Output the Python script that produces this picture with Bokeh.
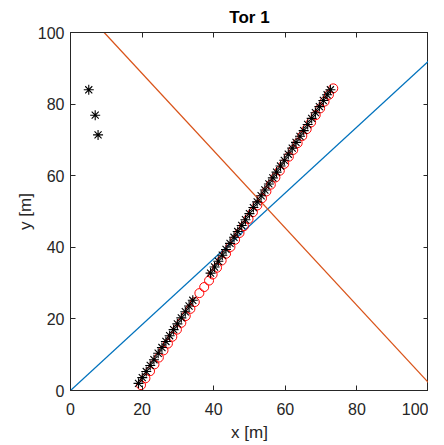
from bokeh.plotting import figure
from bokeh.models import Range1d, FixedTicker, LinearAxis
from bokeh.embed import file_html
from bokeh.resources import INLINE

# ---- data ----
title_text = "Tor 1"
ticks = [0, 20, 40, 60, 80, 100]

blue_x = [0, 100]
blue_y = [0, 92]

orange_x = [9.4, 100]
orange_y = [100, 2.2]

star_x = [19.0, 20.05, 21.16, 22.27, 23.31, 24.49, 25.54, 26.65, 27.69, 28.80,
          29.85, 30.96, 32.07, 33.12, 34.16, 39.13, 40.24, 41.29, 42.40, 43.44,
          44.56, 45.67, 46.71, 47.82, 48.87, 49.98, 51.09, 52.14, 53.25, 54.29,
          55.41, 56.52, 57.56, 58.67, 59.72, 60.83, 61.94, 62.99, 64.10, 65.14,
          66.25, 67.37, 68.41, 69.52, 70.63, 71.68, 72.60]
star_y = [2.0, 3.6, 5.3, 7.0, 8.6, 10.4, 12.0, 13.7, 15.3, 17.0,
          18.6, 20.3, 22.0, 23.6, 25.2, 32.8, 34.5, 36.1, 37.8, 39.4,
          41.1, 42.8, 44.4, 46.1, 47.7, 49.4, 51.1, 52.7, 54.4, 56.0,
          57.7, 59.4, 61.0, 62.7, 64.3, 66.0, 67.7, 69.3, 71.0, 72.6,
          74.3, 76.0, 77.6, 79.3, 81.0, 82.6, 84.0]

outlier_x = [5.1, 6.9, 7.7]
outlier_y = [84.0, 76.9, 71.4]

circ_x = [19.70, 20.93, 22.22, 23.45, 24.68, 25.98, 27.21, 28.44, 29.73, 30.96,
          32.19, 33.49, 34.72, 36.00, 37.35, 38.70, 39.70, 40.93, 42.22, 43.45,
          44.68, 45.98, 47.21, 48.44, 49.73, 50.96, 52.19, 53.49, 54.72, 55.95,
          57.24, 58.47, 59.70, 60.99, 62.22, 63.45, 64.75, 65.98, 67.21, 68.50,
          69.73, 70.96, 72.19, 73.40]
circ_y = [1.5, 3.4, 5.4, 7.3, 9.2, 11.2, 13.1, 15.0, 17.0, 18.9,
          20.8, 22.8, 24.7, 27.2, 28.9, 30.7, 32.4, 34.3, 36.3, 38.2,
          40.1, 42.1, 44.0, 45.9, 47.9, 49.8, 51.7, 53.7, 55.6, 57.5,
          59.5, 61.4, 63.3, 65.3, 67.2, 69.1, 71.1, 73.0, 74.9, 76.9,
          78.8, 80.7, 82.6, 84.4]

FONT = "Liberation Sans"
DARK = "#262626"

p = figure(frame_width=358, frame_height=358, x_range=Range1d(0, 100), y_range=Range1d(0, 100),
           output_backend="svg", toolbar_location=None,
           min_border_left=0, min_border_right=0, min_border_top=0, min_border_bottom=0,
           x_axis_label="x [m]", y_axis_label="y [m]")
p.margin = (0, 0, 0, 12)

p.title.text = title_text
p.title.align = "center"
p.title.text_font = FONT
p.title.text_font_size = "17px"
p.title.text_font_style = "bold"
p.title.text_color = "black"
p.title.standoff = 11
p.title.offset = 0

p.xgrid.visible = False
p.ygrid.visible = False
p.outline_line_color = DARK
p.outline_line_alpha = 1
p.outline_line_width = 1
p.background_fill_color = "white"
p.border_fill_color = "white"

for ax in (p.xaxis[0], p.yaxis[0]):
    ax.ticker = FixedTicker(ticks=ticks)
    ax.major_tick_in = 5
    ax.major_tick_out = 0
    ax.minor_tick_in = 0
    ax.minor_tick_out = 0
    ax.axis_line_color = DARK
    ax.major_tick_line_color = DARK
    ax.major_label_text_font = FONT
    ax.major_label_text_font_size = "16px"
    ax.major_label_text_color = DARK
    ax.axis_label_text_font = FONT
    ax.axis_label_text_font_size = "17px"
    ax.axis_label_text_font_style = "normal"
    ax.axis_label_text_color = DARK
p.xaxis[0].major_label_standoff = 12
p.xaxis[0].axis_label_standoff = 5
p.yaxis[0].major_label_standoff = 6
p.yaxis[0].axis_label_standoff = 0

for side in ("above", "right"):
    a = LinearAxis(ticker=FixedTicker(ticks=ticks), major_tick_in=5, major_tick_out=0,
                   minor_tick_in=0, minor_tick_out=0, major_label_text_font_size="0px",
                   major_label_standoff=0, axis_line_color=DARK, major_tick_line_color=DARK,
                   major_label_text_alpha=0)
    p.add_layout(a, side)

p.line(blue_x, blue_y, line_color="#0072BD", line_width=1.2)
p.line(orange_x, orange_y, line_color="#D95319", line_width=1.2)
p.scatter(circ_x, circ_y, marker="circle", size=9, fill_color=None, line_color="#FF0000", line_width=1)
p.scatter(star_x, star_y, marker="asterisk", size=10, line_color="black", line_width=1.1)
p.scatter(outlier_x, outlier_y, marker="asterisk", size=10, line_color="black", line_width=1.1)

open("out.html", "w").write(file_html(p, INLINE))
